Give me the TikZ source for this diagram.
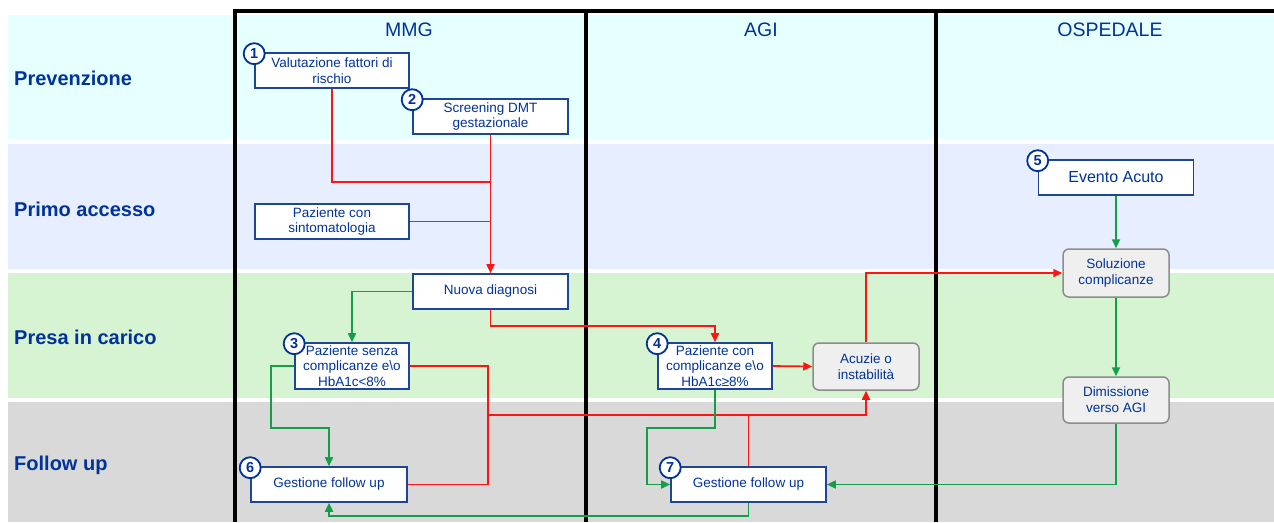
\documentclass[tikz,border=0pt]{standalone}
\usepackage{fontspec}
\setmainfont{Liberation Sans}
\usetikzlibrary{arrows.meta}

\definecolor{txtblue}{RGB}{0,51,153}
\definecolor{boxblue}{RGB}{31,70,150}
\definecolor{bandA}{RGB}{230,255,255}
\definecolor{bandB}{RGB}{230,238,255}
\definecolor{bandC}{RGB}{214,244,210}
\definecolor{bandD}{RGB}{217,217,217}
\definecolor{flowred}{RGB}{255,20,20}
\definecolor{flowgreen}{RGB}{20,158,72}
\definecolor{softgray}{RGB}{239,239,239}
\definecolor{edgegray}{RGB}{140,140,140}

\tikzset{
  band/.style={draw=none},
  lane/.style={line width=4pt, black},
  rowlabel/.style={anchor=west, text=txtblue, font=\bfseries\fontsize{20}{24}\selectfont, inner sep=0},
  lanehead/.style={text=txtblue, font=\fontsize{19.5}{22}\selectfont, inner sep=0},
  stepbox/.style={draw=boxblue, line width=1.6pt, fill=white, text=txtblue, align=center,
    inner sep=0, font=\fontsize{13.5}{15.5}\selectfont},
  softbox/.style={draw=edgegray, line width=1.5pt, fill=softgray, rounded corners=6pt,
    text=txtblue, align=center, inner sep=0, font=\fontsize{13.5}{16}\selectfont},
  badge/.style={circle, draw=txtblue, line width=1.8pt, fill=white, text=txtblue,
    minimum size=21pt, inner sep=0, font=\bfseries\fontsize{14.5}{14.5}\selectfont},
  redline/.style={draw=flowred, line width=1.7pt},
  redarrow/.style={redline, -{Triangle[length=9pt,width=8pt]}},
  greenline/.style={draw=flowgreen, line width=1.7pt},
  greenarrow/.style={greenline, -{Triangle[length=9pt,width=8pt]}},
}

\begin{document}
\begin{tikzpicture}[x=1pt, y=-1pt]
  \useasboundingbox (0,0) rectangle (1274,522);
  \fill[white] (0,0) rectangle (1274,522);

  % horizontal phase bands
  \fill[bandA] (8,15) rectangle (1274,139);
  \fill[bandB] (8,144) rectangle (1274,269);
  \fill[bandC] (8,273) rectangle (1274,398);
  \fill[bandD] (8,402) rectangle (1274,522);

  % phase names
  \node[rowlabel] (rPrev) at (14,78) {Prevenzione};
  \node[rowlabel] (rPrimo) at (14,209) {Primo accesso};
  \node[rowlabel] (rPresa) at (14,337) {Presa in carico};
  \node[rowlabel] (rFollow) at (14,465) {Follow up};

  % swimlane borders
  \draw[lane] (234.5,11) -- (1274,11);
  \draw[lane] (234.5,9) -- (234.5,522);
  \draw[lane] (586,11) -- (586,522);
  \draw[lane] (936,11) -- (936,522);

  % lane titles
  \node[lanehead] (hMMG) at (409,30) {MMG};
  \node[lanehead] (hAGI) at (761,30) {AGI};
  \node[lanehead] (hOSP) at (1110,30) {OSPEDALE};

  % process steps
  \node[stepbox, minimum width=154pt, minimum height=35pt] (b1) at (332,70.5) {Valutazione fattori di\\rischio};
  \node[stepbox, minimum width=155pt, minimum height=35pt] (b2) at (490.5,116.5) {Screening DMT\\gestazionale};
  \node[stepbox, minimum width=154pt, minimum height=35pt] (sint) at (332,221.5) {Paziente con\\sintomatologia};
  \node[stepbox, minimum width=155pt, minimum height=35pt] (nd) at (490.5,291.5) {Nuova diagnosi};
  \node[stepbox, minimum width=114pt, minimum height=46pt] (b3) at (352,366) {Paziente senza\\complicanze e\textbackslash o\\HbA1c<8\%};
  \node[stepbox, minimum width=114pt, minimum height=46pt] (b4) at (715,366) {Paziente con\\complicanze e\textbackslash o\\HbA1c≥8\%};
  \node[softbox, minimum width=106pt, minimum height=47pt] (ac) at (866,366.5) {Acuzie o\\instabilità};
  \node[stepbox, minimum width=155pt, minimum height=35pt, font=\fontsize{16}{18}\selectfont] (ev) at (1116,177.5) {Evento Acuto};
  \node[softbox, minimum width=106pt, minimum height=48pt] (sol) at (1116,273) {Soluzione\\complicanze};
  \node[softbox, minimum width=106pt, minimum height=46pt] (dim) at (1116,400) {Dimissione\\verso AGI};
  \node[stepbox, minimum width=156pt, minimum height=35pt] (b6) at (329,484.5) {Gestione follow up};
  \node[stepbox, minimum width=155pt, minimum height=35pt] (b7) at (748.5,484.5) {Gestione follow up};

  % numbered badges on the step corners
  \node[badge] (n1) at ([yshift=-1.5pt]b1.north west) {1};
  \node[badge] (n2) at ([yshift=-1.5pt]b2.north west) {2};
  \node[badge] (n3) at ([yshift=-1.5pt]b3.north west) {3};
  \node[badge] (n4) at ([yshift=-1.5pt]b4.north west) {4};
  \node[badge] (n5) at ([yshift=-1.5pt]ev.north west) {5};
  \node[badge] (n6) at ([yshift=-1.5pt]b6.north west) {6};
  \node[badge] (n7) at ([yshift=-1.5pt]b7.north west) {7};

  % bend points of the connectors
  \coordinate (jPrev) at (490.5,182);
  \coordinate (jDiag) at (490.5,326);
  \coordinate (jAcu) at (488,415);
  \coordinate (gMMG) at (271,428);
  \coordinate (gAGI) at (647,428);
  \coordinate (gBack) at (748.5,516);

  % red flows
  \draw[redline] (b1.south) |- (jPrev);
  \draw[redline] (sint.east) -- (sint.east -| b2.south);
  \draw[redarrow] (b2.south) -- (nd.north);
  \draw[redarrow] (nd.south) -- (jDiag) -| (b4.north);
  \draw[redarrow] (b4.east) -- (ac.west);
  \draw[redarrow] (ac.north) |- (sol.west);
  \draw[redline] (b3.east) -| (jAcu);
  \draw[redline] (b6.east) -| (jAcu);
  \draw[redline] (b7.north) -- (b7.north |- jAcu);
  \draw[redarrow] (jAcu) -| (ac.south);

  % green flows
  \draw[greenarrow] (nd.west) -| (b3.north);
  \draw[greenarrow] (b3.west) -| (gMMG) -| (b6.north);
  \draw[greenarrow] (b4.south) |- (gAGI) |- (b7.west);
  \draw[greenarrow] (b7.south) -- (gBack) -| (b6.south);
  \draw[greenarrow] (ev.south) -- (sol.north);
  \draw[greenarrow] (sol.south) -- (dim.north);
  \draw[greenarrow] (dim.south) |- (b7.east);
\end{tikzpicture}
\end{document}
